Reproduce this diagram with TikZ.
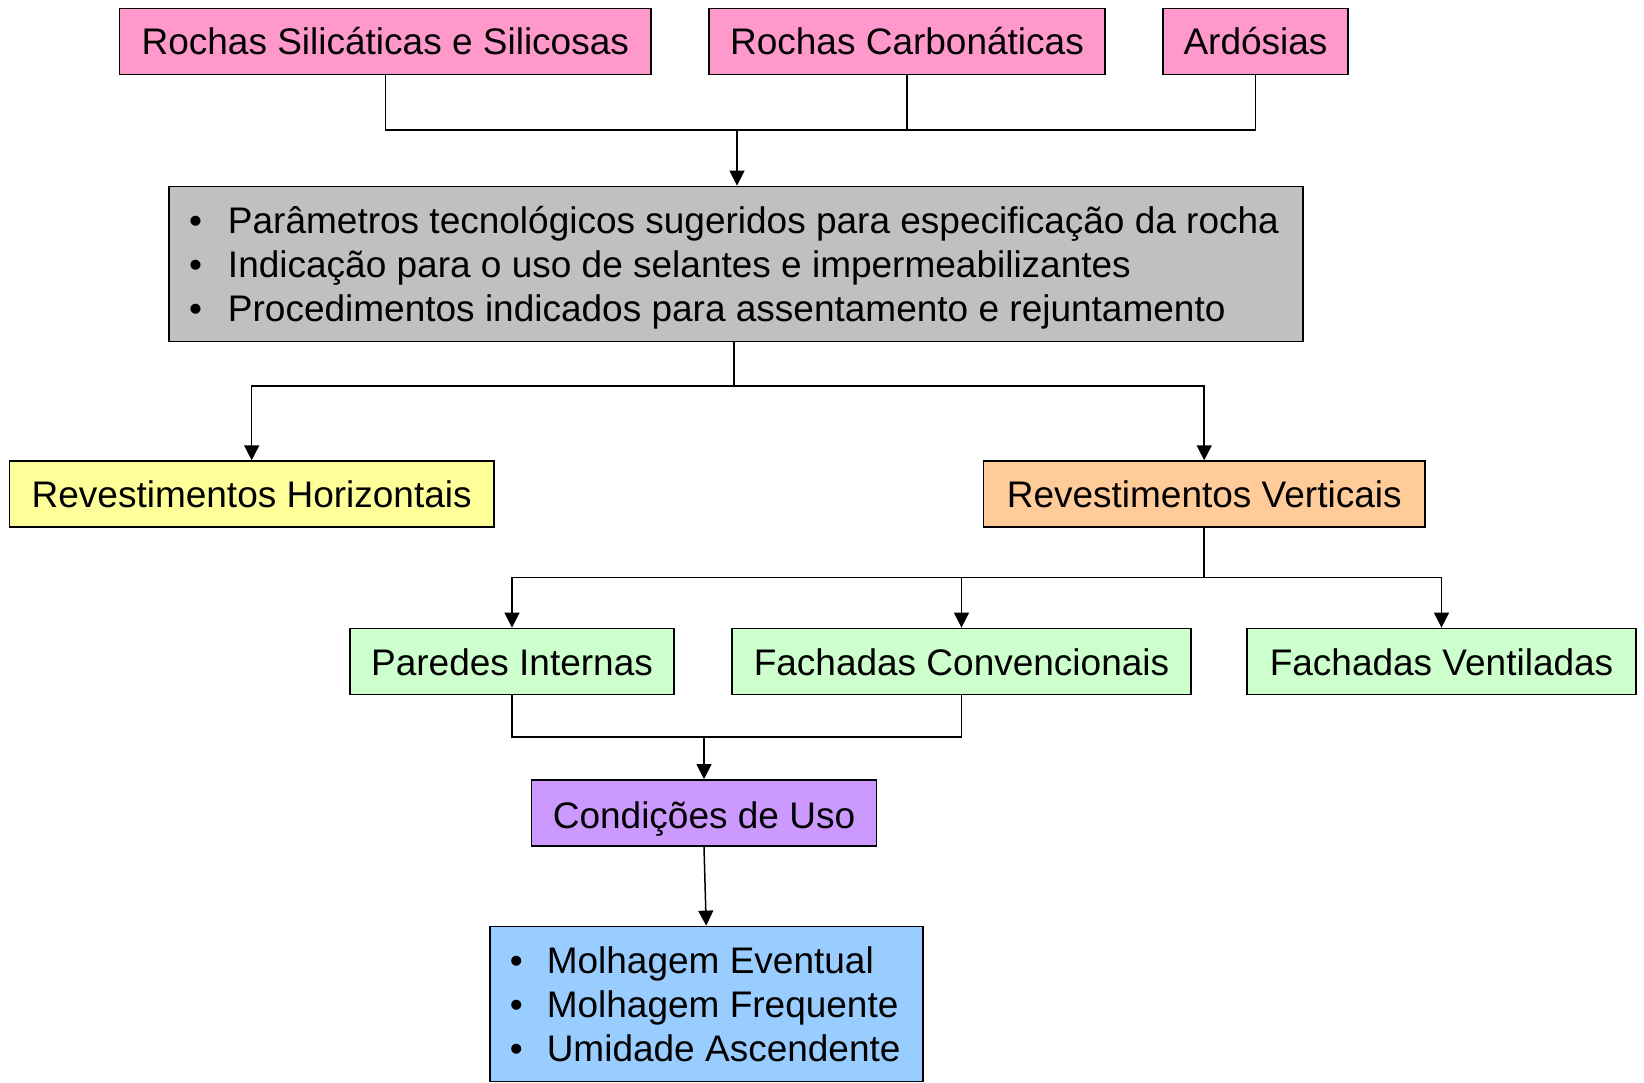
\documentclass[tikz,border=0pt]{standalone}
\usepackage{fontspec}
\setmainfont{Liberation Sans}
\usetikzlibrary{arrows.meta}
\definecolor{pinkc}{HTML}{FF99CC}
\definecolor{grayc}{HTML}{C0C0C0}
\definecolor{yellowc}{HTML}{FFFF99}
\definecolor{orangec}{HTML}{FFCC99}
\definecolor{greenc}{HTML}{CCFFCC}
\definecolor{purplec}{HTML}{CC99FF}
\definecolor{bluec}{HTML}{99CCFF}
\newcommand{\bitemg}{\makebox[35pt][l]{\hspace{-4pt}\textbullet}}
\newcommand{\bitemb}{\makebox[35pt][l]{\hspace{-2pt}\textbullet}}
\begin{document}
\begin{tikzpicture}[x=1pt,y=-1pt,
  box/.style={draw=black, line width=1.8pt, inner sep=0pt, minimum height=66pt,
    font=\fontsize{37}{44}\selectfont, text=black, text height=27pt, text depth=0pt},
  multi/.style={box, minimum height=155pt, text height=0pt, text depth=61.4pt},
  conn/.style={line width=1.5pt},
  arr/.style={conn, -{Triangle[length=15pt,width=15pt]}}]
\useasboundingbox (0,0) rectangle (1644,1082);
% top row
\node[box, fill=pinkc, minimum width=531.5pt] (b1) at (385.3,41.4) {Rochas Silicáticas e Silicosas};
\node[box, fill=pinkc, minimum width=396pt] (b2) at (907,41.4) {Rochas Carbonáticas};
\node[box, fill=pinkc, minimum width=185pt] (b3) at (1255.5,41.4) {Ardósias};
% gray box
\node[multi, fill=grayc, minimum width=1134pt] (gray) at (736,264)
  {\begin{tabular}[t]{@{}l@{}}
   \bitemg Parâmetros tecnológicos sugeridos para especificação da rocha\\
   \bitemg Indicação para o uso de selantes e impermeabilizantes\\
   \bitemg Procedimentos indicados para assentamento e rejuntamento
   \end{tabular}};
% second level
\node[box, fill=yellowc, minimum width=484.6pt] (hor) at (251.7,494.2) {Revestimentos Horizontais};
\node[box, fill=orangec, minimum width=441.5pt] (ver) at (1204.2,494.2) {Revestimentos Verticais};
% third level
\node[box, fill=greenc, minimum width=324pt] (pi) at (512,661.5) {Paredes Internas};
\node[box, fill=greenc, minimum width=459pt] (fc) at (961.5,661.5) {Fachadas Convencionais};
\node[box, fill=greenc, minimum width=389pt] (fv) at (1441.5,661.5) {Fachadas Ventiladas};
% purple
\node[box, fill=purplec, minimum width=345pt, text height=31pt] (cu) at (704,813) {Condições de Uso};
% blue
\node[multi, fill=bluec, minimum width=433pt] (bl) at (706.2,1004)
  {\begin{tabular}[t]{@{}l@{}}
   \bitemb Molhagem Eventual\\
   \bitemb Molhagem Frequente\\
   \bitemb Umidade Ascendente
   \end{tabular}};
% connectors
\coordinate (j1) at (737,130);
\draw[conn] (b1.south) |- (j1) -| (b3.south);
\draw[conn] (b2.south) -- (b2.south |- j1);
\draw[arr] (j1) -- (gray.north -| j1);
\coordinate (j2) at (734,386);
\draw[conn] (gray.south -| j2) -- (j2);
\draw[arr] (j2) -| (hor.north);
\draw[arr] (j2) -| (ver.north);
\coordinate (j3) at (1204.2,577.7);
\draw[conn] (ver.south) -- (j3);
\draw[arr] (j3) -| (pi.north);
\draw[arr] (j3) -| (fc.north);
\draw[arr] (j3) -| (fv.north);
\coordinate (j4) at (704,737);
\draw[conn] (pi.south) |- (j4);
\draw[conn] (fc.south) |- (j4);
\draw[arr] (j4) -- (cu.north);
\draw[arr] (cu.south) -- (bl.north);
\end{tikzpicture}
\end{document}
